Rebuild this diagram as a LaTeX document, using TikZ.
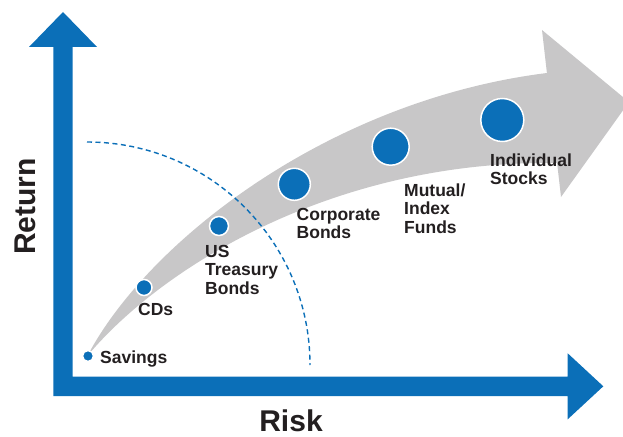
\documentclass[tikz,border=0pt]{standalone}
\usepackage{fontspec}
\setmainfont{Liberation Sans}
\definecolor{axisblue}{HTML}{0B6FB8}
\definecolor{bandgrey}{HTML}{C8C7C8}
\definecolor{ink}{HTML}{231F20}
\begin{document}
\begin{tikzpicture}[x=1pt,y=-1pt,
  dot/.style={circle,fill=axisblue,draw=white,line width=1.5pt,inner sep=0pt,minimum size=#1},
  lbl/.style={font=\bfseries\fontsize{17.5}{18.5}\selectfont,text=ink,align=left,inner sep=0pt,anchor=base west},
  axtitle/.style={font=\bfseries\fontsize{30}{32}\selectfont,text=ink,inner sep=0pt,anchor=base},
  boundary/.style={draw=axisblue,line width=1.4pt,dash pattern=on 5pt off 3.5pt}]
\useasboundingbox (0,0) rectangle (623,436);
\clip (0,0) rectangle (623,436);

% curved grey band with its arrow head
\fill[bandgrey] (89,353) .. controls (150,240) and (330,100) .. (546.9,73)
  -- (542,30) -- (629,102) -- (561,197) -- (557.1,163)
  .. controls (330,160) and (160,270) .. (89,354) -- cycle;

% risk / return axes
\fill[axisblue] (53.3,396) -- (53.3,47) -- (29,47) -- (63,12) -- (97,47) -- (72.7,47)
  -- (72.7,376.7) -- (567.7,376.7) -- (567.7,353.3) -- (603.3,386.3)
  -- (567.7,419.3) -- (567.7,396) -- cycle;

% dashed boundary arc
\draw[boundary] (87,142) arc[start angle=-90,end angle=0,radius=223];

% investment dots
\node[dot=11pt] (sav) at (88,356) {};
\node[dot=16pt] (cds) at (144,287.5) {};
\node[dot=19pt] (ust) at (219,226) {};
\node[dot=32pt] (corp) at (294.3,184.3) {};
\node[dot=37pt] (mut) at (390.7,146.7) {};
\node[dot=43pt] (ind) at (502.3,120) {};

% labels (anchored on the baseline of their last line)
\node[lbl] (tsav) at (100,363.5) {Savings};
\node[lbl] (tcds) at (138,315) {CDs};
\node[lbl] (tust) at (205,294) {US\\Treasury\\Bonds};
\node[lbl] (tcorp) at (296.5,238.5) {Corporate\\Bonds};
\node[lbl] (tmut) at (404,233) {Mutual/\\Index\\Funds};
\node[lbl] (tind) at (490,184.5) {Individual\\Stocks};

% axis titles
\node[axtitle] (risk) at (291,431) {Risk};
\node[axtitle,rotate=90] (ret) at (35,206.5) {Return};
\end{tikzpicture}
\end{document}
